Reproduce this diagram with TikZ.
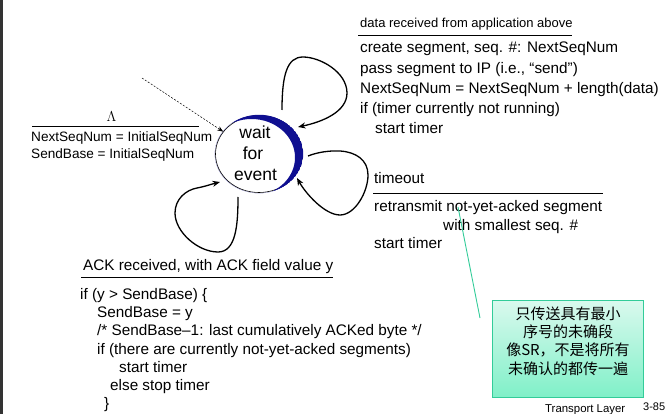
\documentclass[tikz,border=0pt]{standalone}
\usepackage{fontspec}
\setmainfont{Liberation Sans}
\newfontfamily\cjk{Noto Sans CJK SC}
\usetikzlibrary{shapes.geometric,arrows.meta}
\definecolor{crescent}{RGB}{15,15,145}
\definecolor{callout}{RGB}{51,204,153}
\definecolor{boxtop}{RGB}{218,249,238}
\definecolor{boxbot}{RGB}{128,240,200}
\begin{document}
\begin{tikzpicture}[x=1pt,y=-1pt,
  txt/.style={inner sep=0pt, anchor=base west},
  ctxt/.style={inner sep=0pt, anchor=base},
  loopline/.style={line width=1.3pt, -{Stealth[length=7.5pt,width=6pt]}},
  rulel/.style={line width=0.8pt},
  fhead/.style={font=\fontsize{13}{15}\selectfont},
  fbody/.style={font=\fontsize{15.3}{18}\selectfont},
  fsmall/.style={font=\fontsize{13.6}{16}\selectfont},
]
\useasboundingbox (0,0) rectangle (672,414);
\fill[black!80] (0,0) rectangle (2.5,414);

% state
\node[ellipse, draw, line width=0.6pt, minimum width=87pt, minimum height=77pt, inner sep=0pt] (w) at (259,154) {};
\begin{scope}
  \clip (259,154) ellipse [x radius=44.2pt, y radius=39.2pt];
  \fill[crescent, even odd rule] (259,154) ellipse [x radius=44.2pt, y radius=39.2pt]
        (251.5,157.5) ellipse [x radius=43.5pt, y radius=38.5pt];
\end{scope}
\node[ctxt, font=\fontsize{17.5}{20}\selectfont] (w1) at (255,139) {wait};
\node[ctxt, font=\fontsize{17.5}{20}\selectfont] (w2) at (253,160) {for};
\node[ctxt, font=\fontsize{17.5}{20}\selectfont] (w3) at (255.5,180.7) {event};

% initial transition
\coordinate (init) at (142,78);
\draw[line width=0.5pt, dash pattern=on 2pt off 1.5pt, -{Stealth[length=6pt,width=4.5pt]}] (init) -- (w.148);
\node[ctxt, font=\fontsize{14.5}{15}\selectfont] (lam) at (111.5,122) {$\Lambda$};
\draw[rulel] (32,126) -- (199,126);
\node[txt, fsmall] (i1) at (31,141.7) {NextSeqNum = InitialSeqNum};
\node[txt, fsmall] (i2) at (31,159) {SendBase = InitialSeqNum};

% loops
\coordinate (l1s) at (282,110); \coordinate (l1e) at (298,127);
\draw[loopline] (l1s) .. controls (282,75) and (287,57) .. (303,57)
   .. controls (320,57) and (347,72) .. (347,93)
   .. controls (347,112) and (322,122) .. (l1e);
\coordinate (l2s) at (308,156); \coordinate (l2e) at (297,178);
\draw[loopline] (l2s) .. controls (318,152) and (330,150.5) .. (340,151)
   .. controls (356,152) and (368,160) .. (368,175)
   .. controls (368,192) and (355,215) .. (340,215)
   .. controls (325,215) and (306,194) .. (l2e);
\coordinate (l3s) at (238,197); \coordinate (l3e) at (220,182);
\draw[loopline] (l3s) .. controls (238,225) and (236,252) .. (218,252)
   .. controls (198,252) and (175,232) .. (175,213)
   .. controls (175,199) and (186,190) .. (197,188)
   .. controls (205,186.5) and (212,184) .. (l3e);

% data received
\node[txt, fhead] (h1) at (360,28) {data received from application above};
\draw[rulel] (358,35) -- (572,35);
\node[txt, fbody] (b1) at (360,53) {create segment, seq. \#: NextSeqNum};
\node[txt, fbody] (b2) at (360,73.3) {pass segment to IP (i.e., “send”)};
\node[txt, fbody] (b3) at (360,93.5) {NextSeqNum = NextSeqNum + length(data)};
\node[txt, fbody] (b4) at (360,113.8) {if (timer currently not running)};
\node[txt, fbody] (b5) at (375,134) {start timer};

% timeout
\node[txt, fbody] (t0) at (374,184) {timeout};
\draw[rulel] (373,193.3) -- (603,193.3);
\node[txt, fbody] (t1) at (374,211.5) {retransmit not-yet-acked segment};
\node[txt, fbody] (t2) at (443,230) {with smallest seq. \#};
\node[txt, fbody] (t3) at (374,248.5) {start timer};

% ACK
\node[txt, fbody] (a0) at (83,270.7) {ACK received, with ACK field value y};
\draw[rulel] (81,277.3) -- (333,277.3);
\node[txt, fbody] (a1) at (80,299) {if (y > SendBase) \{};
\node[txt, fbody] (a2) at (97,317.3) {SendBase = y};
\node[txt, fbody] (a3) at (97,335.6) {/* SendBase–1: last cumulatively ACKed byte */};
\node[txt, fbody] (a4) at (97,354) {if (there are currently not-yet-acked segments)};
\node[txt, fbody] (a5) at (119,372.2) {start timer};
\node[txt, fbody] (a6) at (110,390.5) {else stop timer};
\node[txt, fbody] (a7) at (104,408.8) {\}};

% note box
\node[draw=callout, line width=1pt, top color=boxtop, bottom color=boxbot,
      minimum width=151pt, minimum height=97pt, inner sep=0pt] (note) at (567.5,348.5) {};
\node[inner sep=0pt, font=\cjk\fontsize{15}{18}\selectfont] (c1) at (568,313.5) {只传送具有最小};
\node[inner sep=0pt, font=\cjk\fontsize{15}{18}\selectfont] (c2) at (568,332) {序号的未确段};
\node[inner sep=0pt, font=\cjk\fontsize{15}{18}\selectfont] (c3) at (568,350.5) {像SR，不是将所有};
\node[inner sep=0pt, font=\cjk\fontsize{15}{18}\selectfont] (c4) at (568,369) {未确认的都传一遍};
\coordinate (p1) at (458,207); \coordinate (p2) at (480,318);
\draw[callout, line width=0.9pt] (p1) -- (p2);

% footer
\node[txt, font=\fontsize{11.4}{13}\selectfont] (tl) at (545,412) {Transport Layer};
\node[txt, font=\fontsize{11}{13}\selectfont] (pg) at (643,410) {3-85};
\end{tikzpicture}
\end{document}
